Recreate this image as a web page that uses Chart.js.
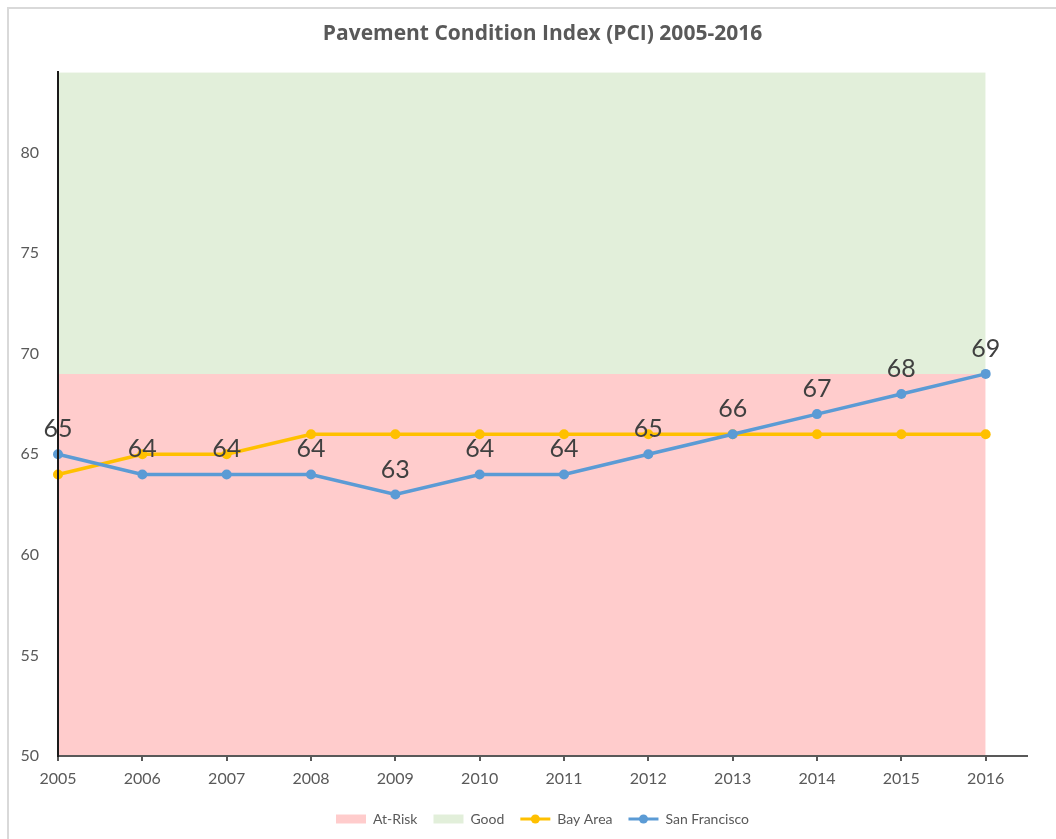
<!DOCTYPE html>
<html>
<head>
<meta charset="utf-8">
<title>Pavement Condition Index (PCI) 2005-2016</title>
<script src="https://cdn.jsdelivr.net/npm/chart.js@4.4.0/dist/chart.umd.min.js"></script>
<style>
    html, body { margin: 0; padding: 0; background: #fff; }
    #wrap { position: relative; width: 1056px; height: 839px; overflow: hidden; }
    #frame { position: absolute; left: 7px; top: 7px; width: 1100px; height: 900px;
             border-left: 2px solid #d9d9d9; border-top: 2px solid #d9d9d9; }
    canvas { position: absolute; left: 0; top: 0; }
</style>
</head>
<body>
<div id="wrap">
    <div id="frame"></div>
    <canvas id="pciChart" width="1056" height="839"></canvas>
</div>
<script>
'use strict';

/* Chart data */
const years = [2005, 2006, 2007, 2008, 2009, 2010, 2011, 2012, 2013, 2014, 2015, 2016];
const bayArea = [64, 65, 65, 66, 66, 66, 66, 66, 66, 66, 66, 66];
const sanFrancisco = [65, 64, 64, 64, 63, 64, 64, 65, 66, 67, 68, 69];
const atRiskLimit = [69, 69, 69, 69, 69, 69, 69, 69, 69, 69, 69, 69];
const goodLimit = [84, 84, 84, 84, 84, 84, 84, 84, 84, 84, 84, 84];
const yTickMin = 50;
const yTickMax = 84;
const yTickStep = 5;

const FONT = 'Lato';
const GREY_TEXT = '#595959';

// turn a series into {x, y} points for the linear year axis
function toPoints(values) {
    return years.map(function(yr, i) {
        return { x: yr, y: values[i] };
    });
}

/* Value labels above the San Francisco points */
const pointLabels = {
    id: 'pointLabels',
    afterDatasetsDraw: function(chart) {
        const meta = chart.getDatasetMeta(3);
        const ctx = chart.ctx;
        ctx.save();
        ctx.font = '25px ' + FONT;
        ctx.fillStyle = '#404040';
        ctx.textAlign = 'center';
        ctx.textBaseline = 'middle';
        meta.data.forEach(function(pt, i) {
            ctx.fillText(String(sanFrancisco[i]), pt.x, pt.y - 25);
        });
        ctx.restore();
    }
};

/* Center title and legend over the plot area, not the whole canvas */
const centerOnPlot = {
    id: 'centerOnPlot',
    afterLayout: function(chart) {
        const area = chart.chartArea;
        chart.titleBlock.left = area.left;
        chart.titleBlock.right = area.right;
        chart.legend.left = area.left;
        chart.legend.right = area.right;
        chart.legend.top -= 3;
        chart.legend.bottom -= 3;
    }
};

/* Marker dot in the middle of the line legend entries */
const legendMarkers = {
    id: 'legendMarkers',
    afterDraw: function(chart) {
        const boxes = chart.legend.legendHitBoxes;
        const ctx = chart.ctx;
        [2, 3].forEach(function(i) {
            const hb = boxes[i];
            const ds = chart.data.datasets[i];
            ctx.save();
            ctx.fillStyle = ds.borderColor;
            ctx.beginPath();
            ctx.arc(hb.left + 15, hb.top + 7, 4.5, 0, Math.PI * 2);
            ctx.fill();
            ctx.restore();
        });
    }
};

const data = {
    datasets: [{
        label: 'At-Risk',
        data: toPoints(atRiskLimit),
        backgroundColor: '#ffcccc',
        borderColor: '#ffcccc',
        borderWidth: 0,
        pointRadius: 0,
        fill: 'start',
        order: 4
    }, {
        label: 'Good',
        data: toPoints(goodLimit),
        backgroundColor: '#e2efda',
        borderColor: '#e2efda',
        borderWidth: 0,
        pointRadius: 0,
        fill: '-1',
        order: 3
    }, {
        label: 'Bay Area',
        data: toPoints(bayArea),
        borderColor: '#ffc000',
        backgroundColor: '#ffc000',
        borderWidth: 3.5,
        pointRadius: 5,
        pointBorderWidth: 0,
        fill: false,
        clip: false,
        order: 2
    }, {
        label: 'San Francisco',
        data: toPoints(sanFrancisco),
        borderColor: '#5b9bd5',
        backgroundColor: '#5b9bd5',
        borderWidth: 3.5,
        pointRadius: 5,
        pointBorderWidth: 0,
        fill: false,
        clip: false,
        order: 1
    }]
};

const config = {
    type: 'line',
    data: data,
    options: {
        responsive: false,
        animation: false,
        devicePixelRatio: 1,
        layout: {
            padding: { left: 0, right: 29, top: 0, bottom: 0 }
        },
        elements: {
            line: { tension: 0 }
        },
        scales: {
            x: {
                type: 'linear',
                min: 2005,
                max: 2016.49,
                grid: {
                    z: 1,
                    drawOnChartArea: false,
                    drawTicks: true,
                    tickLength: 5,
                    color: '#595959',
                    lineWidth: 2
                },
                border: { z: 1, color: '#595959', width: 2 },
                ticks: {
                    stepSize: 1,
                    includeBounds: false,
                    autoSkip: false,
                    maxRotation: 0,
                    padding: 8,
                    color: GREY_TEXT,
                    font: { family: FONT, size: 16 },
                    callback: function(v) { return String(v); }
                },
                afterFit: function(scale) { scale.height = 43; }
            },
            y: {
                min: yTickMin,
                max: yTickMax,
                grid: { display: false, drawTicks: false },
                border: { display: true, z: 1, color: '#1a1a1a', width: 2 },
                ticks: {
                    stepSize: yTickStep,
                    includeBounds: false,
                    padding: 19,
                    color: GREY_TEXT,
                    font: { family: FONT, size: 16 }
                },
                afterFit: function(scale) { scale.width = 58; }
            }
        },
        plugins: {
            title: {
                display: true,
                text: 'Pavement Condition Index (PCI) 2005-2016',
                color: GREY_TEXT,
                font: { family: 'Open Sans', size: 21, weight: 'bold' },
                padding: { top: 21, bottom: 26 }
            },
            legend: {
                position: 'bottom',
                labels: {
                    usePointStyle: true,
                    pointStyleWidth: 30,
                    boxHeight: 9,
                    padding: 16,
                    color: GREY_TEXT,
                    font: { family: FONT, size: 14 },
                    generateLabels: function(chart) {
                        return chart.data.datasets.map(function(ds, i) {
                            const isBand = i < 2;
                            return {
                                text: ds.label,
                                datasetIndex: i,
                                fillStyle: isBand ? ds.backgroundColor : ds.borderColor,
                                strokeStyle: ds.borderColor,
                                lineWidth: isBand ? 0 : 3,
                                pointStyle: isBand ? 'rect' : 'line',
                                fontColor: GREY_TEXT,
                                hidden: false
                            };
                        });
                    }
                }
            },
            tooltip: { enabled: false }
        }
    },
    plugins: [pointLabels, centerOnPlot, legendMarkers]
};

var pciChart = new Chart(document.getElementById('pciChart'), config);
</script>
</body>
</html>
